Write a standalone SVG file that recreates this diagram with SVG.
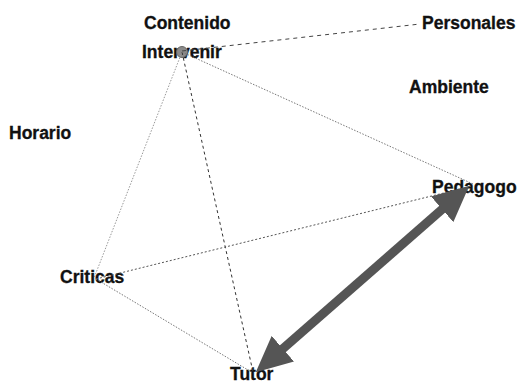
<svg xmlns="http://www.w3.org/2000/svg" width="521" height="385" viewBox="0 0 521 385">
<style>
  .lbl { font-family: "Liberation Sans", Arial, sans-serif; font-weight: bold; font-size: 17.5px; fill: #111111; stroke: #111111; stroke-width: 0.3; }
  .e { fill: none; stroke-width: 1; }
</style>
<defs>
  <marker id="head" markerUnits="userSpaceOnUse" viewBox="0 0 36 34" markerWidth="36" markerHeight="34" refX="1" refY="17" orient="auto-start-reverse">
    <path d="M0,0 L36,17 L0,34 Z" fill="#555555"/>
  </marker>
</defs>
<rect width="521" height="385" fill="#ffffff"/>
<g id="nodes">
  <g id="node-contenido"><text class="lbl" x="144" y="29">Contenido</text></g>
  <g id="node-personales"><text class="lbl" x="422" y="29">Personales</text></g>
  <g id="node-intervenir">
    <text class="lbl" x="142" y="58">Intervenir</text>
    <circle cx="182" cy="52" r="5.5" fill="#8a8a8a" stroke="#666666" stroke-width="1"/>
  </g>
  <g id="node-ambiente"><text class="lbl" x="409" y="93">Ambiente</text></g>
  <g id="node-horario"><text class="lbl" x="9" y="139">Horario</text></g>
  <g id="node-pedagogo"><text class="lbl" x="432" y="193">Pedagogo</text></g>
  <g id="node-criticas"><text class="lbl" x="60" y="283">Criticas</text></g>
  <g id="node-tutor"><text class="lbl" x="230" y="380">Tutor</text></g>
</g>
<g id="connectors">
  <line class="e" x1="182" y1="51" x2="420" y2="24" stroke="#444444" stroke-dasharray="4,4"/>
  <line class="e" x1="182" y1="52" x2="94" y2="278" stroke="#999999" stroke-dasharray="1.5,1.5"/>
  <line class="e" x1="182" y1="52" x2="253" y2="372" stroke="#333333" stroke-dasharray="3,3"/>
  <line class="e" x1="182" y1="52" x2="473" y2="184" stroke="#777777" stroke-dasharray="1.5,1.5"/>
  <line class="e" x1="96" y1="279" x2="472" y2="186" stroke="#555555" stroke-dasharray="2,2"/>
  <line class="e" x1="96" y1="279" x2="253" y2="373" stroke="#777777" stroke-dasharray="1.5,1.5"/>
  <line x1="282.1" y1="349.3" x2="442.9" y2="208.7" stroke="#555555" stroke-width="9" marker-start="url(#head)" marker-end="url(#head)"/>
</g>
</svg>
